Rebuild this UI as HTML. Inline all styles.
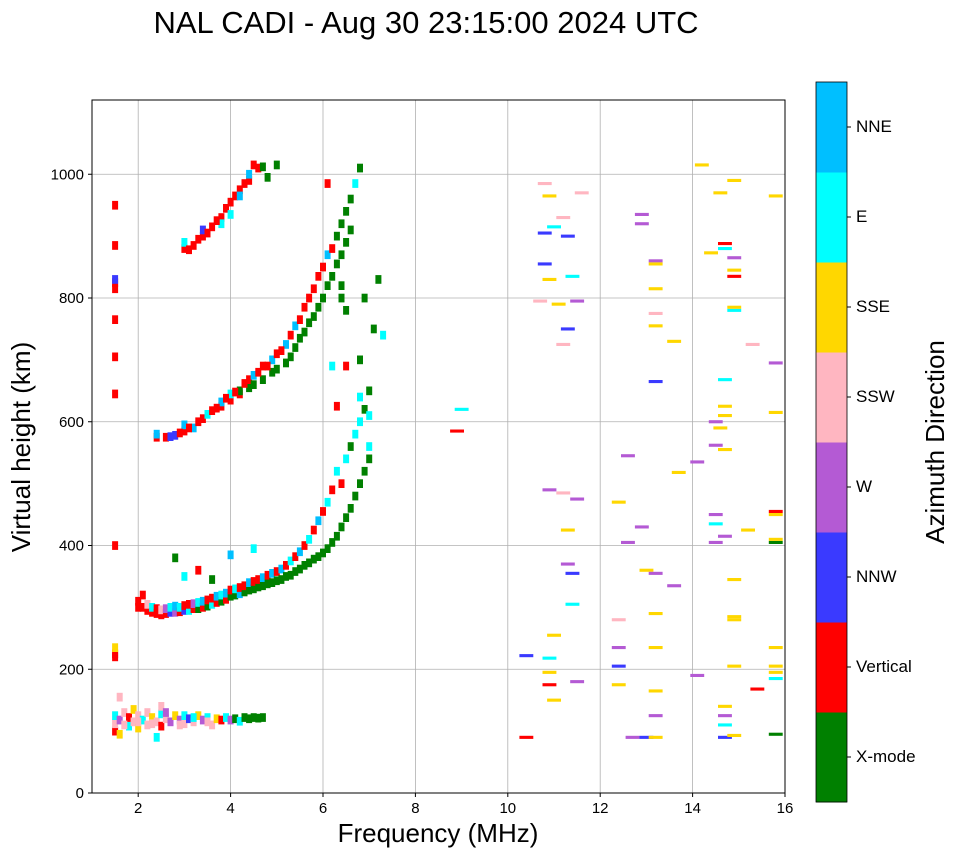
<!DOCTYPE html>
<html><head><meta charset="utf-8"><style>
html,body{margin:0;padding:0;background:#fff;}
svg{display:block;font-family:"Liberation Sans","DejaVu Sans",sans-serif;}
</style></head><body>
<svg id="chart" width="958" height="857" viewBox="0 0 958 857" xmlns="http://www.w3.org/2000/svg">
<text x="426" y="33" font-size="31" text-anchor="middle">NAL CADI - Aug 30 23:15:00 2024 UTC</text>
<g id="grid"></g>
<g id="marks"></g>
<rect x="92" y="100" width="693" height="693" fill="none" stroke="#000" stroke-width="1"/>
<g id="axes"></g>
<text x="438" y="842" font-size="26" text-anchor="middle">Frequency (MHz)</text>
<text transform="translate(30,447) rotate(-90)" font-size="26" text-anchor="middle">Virtual height (km)</text>
<g id="cbar"></g>
<text transform="translate(944,442) rotate(-90)" font-size="26" text-anchor="middle">Azimuth Direction</text>
</svg>
<script>
const dirNames = ["X-mode","Vertical","NNW","W","SSW","SSE","E","NNE"];
const dirColors = ["#008000","#ff0000","#3a3aff","#b45ad4","#ffb6c1","#ffd700","#00ffff","#00bfff"];
const xTicks = [2,4,6,8,10,12,14,16];
const yTicks = [0,200,400,600,800,1000];

const eFreq = [1.5,1.5,1.5,1.6,1.6,1.7,1.8,1.8,1.9,1.9,2.0,2.0,2.1,2.2,2.2,2.3,2.4,2.5,2.5,2.6,2.7,2.8,2.9,3.0,3.0,3.1,3.2,3.3,3.4,3.5,3.6,3.7,3.8,3.9,4.0,4.1,4.2,4.3,4.4,4.5,4.6,4.7,2.4,2.5,1.6,1.7,2.0,2.3,2.6,2.9,3.2,3.5];
const eHeight = [100,112,125,95,118,130,108,122,115,135,105,125,118,130,110,122,115,128,108,120,115,125,118,112,125,120,115,125,118,122,110,120,118,122,118,120,116,122,120,122,121,122,90,140,155,110,115,112,130,110,122,115];
const eDir = [1,4,6,5,3,4,6,1,4,5,5,4,6,4,4,5,4,6,1,4,3,5,3,4,6,2,4,5,3,6,4,5,1,6,3,0,6,0,0,0,0,0,6,4,4,4,4,4,3,4,6,4];

const fFreq = [2.0,2.0,2.1,2.1,2.2,2.2,2.3,2.3,2.4,2.4,2.5,2.5,2.6,2.6,2.7,2.7,2.8,2.8,2.9,2.9,3.0,3.0,3.1,3.1,3.2,3.2,3.3,3.3,3.4,3.4,3.5,3.5,3.6,3.6,3.7,3.7,3.8,3.8,3.9,3.9,4.0,4.0,4.1,4.1,4.2,4.2,4.3,4.3,4.4,4.4,4.5,4.5,4.6,4.6,4.7,4.7,4.8,4.8,4.9,4.9,5.0,5.0,5.1,5.1,5.2,5.2,5.3,5.3,5.4,5.4,5.5,5.5,5.6,5.6,5.7,5.7,5.8,5.8,5.9,5.9,6.0,6.0,6.1,6.1,6.2,6.2,6.3,6.3,6.4,6.4,6.5,6.5,6.6,6.6,6.7,6.7,6.8,6.8,6.9,6.9,7.0,7.0,3.0,3.3,3.6,2.8,4.0,4.5];
const fHeight = [310,300,300,320,295,305,292,300,290,298,288,296,290,298,292,300,292,302,293,300,295,303,295,305,298,306,298,308,300,310,302,312,305,315,308,318,310,320,313,323,318,328,320,330,322,332,325,335,328,340,330,342,333,345,335,348,338,352,340,355,343,358,345,362,350,368,352,375,358,382,362,390,368,400,372,410,378,425,382,440,388,455,395,470,405,490,415,520,430,500,445,540,460,560,480,580,500,600,520,620,540,560,350,360,345,380,385,395];
const fDir = [1,1,1,1,1,4,1,6,1,1,1,4,1,3,2,6,3,7,1,6,2,1,6,1,1,3,0,6,1,7,0,1,6,1,1,7,0,6,1,7,0,1,0,6,7,1,0,1,0,7,0,1,0,1,0,7,0,1,0,7,0,1,0,7,0,1,0,6,0,1,0,7,0,1,0,6,0,1,0,7,0,1,0,6,0,1,0,6,0,1,0,6,0,0,0,6,0,6,0,0,0,6,6,1,0,0,7,6];

const f2Freq = [2.4,2.4,2.6,2.8,3.0,3.0,3.2,3.4,3.5,3.6,3.8,3.8,4.0,4.0,4.2,4.2,4.4,4.4,4.5,4.5,4.7,4.7,4.9,4.9,5.0,5.0,5.2,5.2,5.3,5.3,5.4,5.4,5.5,5.5,5.6,5.6,5.7,5.7,5.8,5.8,5.9,5.9,6.0,6.0,6.1,6.1,6.2,6.2,6.3,6.3,6.4,6.4,6.5,6.5,6.6,6.6,6.4,6.4,6.5,6.8,6.7,6.1,6.8,7.0,7.1,6.9,7.2,7.0,6.8,7.3,6.5,6.3,6.2,2.7,2.9,3.1,3.3,3.7,3.9,4.1,4.3,4.6,4.8,5.1];
const f2Height = [575,580,575,578,585,595,590,605,612,618,625,632,635,645,645,650,655,668,660,675,668,690,680,700,685,710,695,725,705,740,720,755,735,765,745,785,760,800,770,815,785,835,800,850,820,870,835,880,855,900,870,920,890,940,910,960,800,820,780,1010,985,985,700,650,750,800,830,610,640,740,690,625,690,576,582,590,600,622,638,648,662,680,690,715];
const f2Dir = [1,7,1,2,1,7,7,1,6,1,1,7,1,6,1,0,0,1,0,7,0,1,0,7,0,1,0,7,0,1,0,7,0,1,0,1,0,1,0,1,0,1,0,1,0,7,0,1,0,0,0,0,0,0,0,0,0,0,0,0,6,1,0,0,0,0,0,6,6,6,1,1,6,2,1,1,1,1,1,1,1,1,1,1];

const f3Freq = [3.0,3.0,3.2,3.4,3.4,3.6,3.8,3.8,3.9,4.0,4.0,4.1,4.2,4.2,4.3,4.4,4.4,4.6,4.7,5.0,4.5,4.8,3.1,3.3,3.5,3.7,1.5,1.5,1.5,1.5,1.5,1.5,1.5,1.5,1.5,1.5,1.5,1.5];
const f3Height = [880,890,885,900,910,915,930,920,945,955,935,965,975,965,985,990,1000,1010,1012,1015,1015,995,878,895,905,925,950,885,825,815,765,705,645,400,225,235,220,830];
const f3Dir = [1,6,1,1,2,1,1,6,1,1,6,1,1,7,1,1,7,1,0,0,1,0,1,1,1,1,1,1,1,1,1,1,1,1,1,5,1,2];

const sFreq = [9.0,8.9,10.4,10.4,10.8,10.9,10.8,10.8,11.0,10.9,11.2,11.3,11.4,11.6,10.7,11.1,11.3,11.2,11.5,10.9,11.2,11.5,11.3,11.3,11.4,11.4,11.0,10.9,10.9,10.9,11.0,11.5,12.4,12.6,12.6,12.9,12.4,12.4,12.4,12.4,12.7,13.0,12.9,12.9,13.2,13.2,13.2,13.2,13.2,13.6,13.2,13.0,13.2,13.2,13.2,13.2,13.2,13.2,13.6,13.7,14.1,14.1,14.2,14.6,14.4,14.7,14.7,14.9,14.9,14.9,14.9,14.9,14.9,15.3,14.7,14.5,14.6,14.7,14.7,14.7,14.5,14.5,14.7,14.5,14.5,14.9,14.9,14.9,14.9,14.7,14.7,14.7,14.7,14.9,15.2,15.4,15.8,15.8,15.8,15.8,15.8,15.8,15.8,15.8,15.8,15.8,15.8,15.8];
const sHeight = [620,585,90,222,985,965,905,855,915,830,930,900,835,970,795,790,750,725,795,490,485,475,425,370,355,305,255,218,195,175,150,180,470,545,405,430,280,235,205,175,90,90,935,920,860,855,815,775,755,730,665,360,355,290,235,165,125,90,335,518,535,190,1015,970,873,888,880,990,865,845,835,780,785,725,668,600,590,625,610,555,562,450,415,405,435,345,285,280,205,140,125,110,90,93,425,168,965,695,615,455,450,405,410,235,205,195,185,95];
const sDir = [6,1,1,2,4,5,2,2,6,5,4,2,6,4,4,5,2,4,3,3,4,3,5,3,2,6,5,6,5,1,5,3,5,3,3,3,4,3,2,5,3,2,3,3,3,5,5,4,5,5,2,5,3,5,5,5,3,5,3,5,3,3,5,5,5,1,6,5,3,5,1,6,5,4,6,3,5,5,5,5,3,3,3,3,6,5,5,5,5,5,3,6,2,5,5,1,5,3,5,1,5,0,5,5,5,5,6,0];

const NS="http://www.w3.org/2000/svg";
const X0=92, X1=785, Y0=793, Y1=100, FMIN=1, FMAX=16, HMIN=0, HMAX=1120;
function xScale(f){return X0+(f-FMIN)/(FMAX-FMIN)*(X1-X0);}
function yScale(h){return Y0-(h-HMIN)/(HMAX-HMIN)*(Y0-Y1);}
function mk(tag,attrs,parent){const e=document.createElementNS(NS,tag);for(const k in attrs)e.setAttribute(k,attrs[k]);parent.appendChild(e);return e;}

const grid=document.getElementById('grid'), axes=document.getElementById('axes'), marks=document.getElementById('marks'), cbar=document.getElementById('cbar');
xTicks.forEach(t=>{
  const x=xScale(t);
  if(t<FMAX){const l=mk('line',{x1:x,x2:x,y1:Y1,y2:Y0,stroke:'#b0b0b0','stroke-width':0.8},grid);
  
  }
  mk('line',{x1:x,x2:x,y1:Y0,y2:Y0+4,stroke:'#000'},axes);
  const tx=mk('text',{x:x,y:Y0+20,'font-size':15,'text-anchor':'middle'},axes);
  tx.textContent=t;
  
  
});
yTicks.forEach(t=>{
  const y=yScale(t);
  if(t>HMIN){const l=mk('line',{x1:X0,x2:X1,y1:y,y2:y,stroke:'#b0b0b0','stroke-width':0.8},grid);
  
  }
  mk('line',{x1:X0-4,x2:X0,y1:y,y2:y,stroke:'#000'},axes);
  const tx=mk('text',{x:X0-8,y:y+5,'font-size':15,'text-anchor':'end'},axes);
  tx.textContent=t;
  
  
});

function drawSet(fs,hs,ds){
  for(let i=0;i<fs.length;i++){
    const sparse=fs[i]>8;
    const w=sparse?0.3:0.13;
    const dh=sparse?2.5:7;
    const x=xScale(fs[i]-w/2), xr=xScale(fs[i]+w/2);
    const y=yScale(hs[i]+dh), yb=yScale(hs[i]-dh);
    const r=mk('rect',{x:x.toFixed(1),y:y.toFixed(1),width:(xr-x).toFixed(1),height:(yb-y).toFixed(1),fill:dirColors[ds[i]]},marks);
    
    
  }
}
drawSet(eFreq,eHeight,eDir);
drawSet(fFreq,fHeight,fDir);
drawSet(f2Freq,f2Height,f2Dir);
drawSet(f3Freq,f3Height,f3Dir);
drawSet(sFreq,sHeight,sDir);

const CB_X=816, CB_W=31, CB_TOP=82, CB_BOT=802;
const step=(CB_BOT-CB_TOP)/dirNames.length;
dirNames.forEach((n,i)=>{
  const y=CB_BOT-(i+1)*step;
  const r=mk('rect',{x:CB_X,y:y,width:CB_W,height:step+0.5,fill:dirColors[i]},cbar);
  
  
  mk('line',{x1:CB_X+CB_W,x2:CB_X+CB_W+4,y1:y+step/2,y2:y+step/2,stroke:'#000'},cbar);
  const tx=mk('text',{x:CB_X+CB_W+9,y:y+step/2+5,'font-size':17},cbar);
  tx.textContent=n;
  
  
});
mk('rect',{x:CB_X,y:CB_TOP,width:CB_W,height:CB_BOT-CB_TOP,fill:'none',stroke:'#000','stroke-width':0.8},cbar);
</script>
</body></html>
